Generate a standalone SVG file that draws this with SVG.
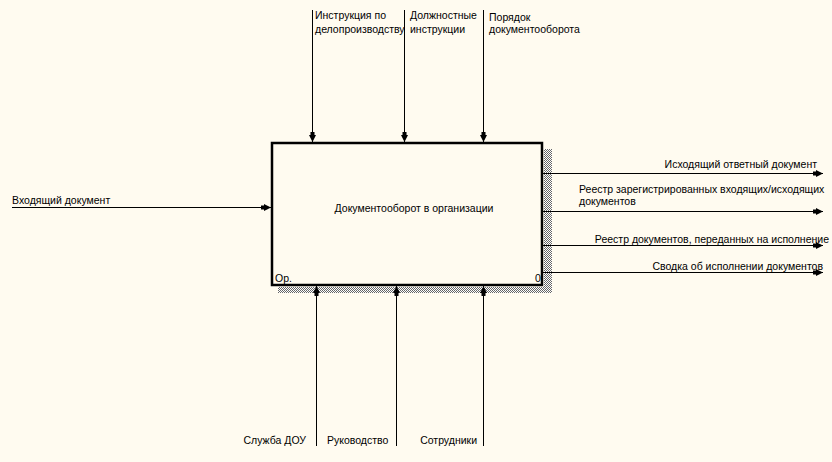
<svg xmlns="http://www.w3.org/2000/svg" width="832" height="462" viewBox="0 0 832 462">
<defs>
<pattern id="hatch" width="2" height="2" patternUnits="userSpaceOnUse">
<rect width="2" height="2" fill="#ffffff"/>
<rect width="1" height="1" fill="#666666"/>
<rect x="1" y="1" width="1" height="1" fill="#666666"/>
</pattern>
<marker id="arr" viewBox="0 0 10 8" refX="10" refY="4" markerWidth="10" markerHeight="8" markerUnits="userSpaceOnUse" orient="auto">
<path d="M0,2 L3,2 L3,0.5 L10,4 L3,7.5 L3,6 L0,6 Z" fill="#000"/>
</marker>
<style>
text{font-family:"Liberation Sans",Arial,sans-serif;font-size:10.5px;fill:#000}
.c{stroke:#000;stroke-width:1;fill:none}
</style>
</defs>
<rect width="832" height="462" fill="#fffbf0"/>
<g id="node-main">
<rect x="544" y="149" width="8" height="144" fill="url(#hatch)"/>
<rect x="278" y="287" width="274" height="6" fill="url(#hatch)"/>
<rect x="272" y="143" width="270" height="142" fill="#fffbf0" stroke="#000" stroke-width="2.5"/>
<text x="414" y="212" text-anchor="middle">Документооборот в организации</text>
<text x="275" y="282">Ор.</text>
<text x="535" y="282">0</text>
</g>
<g id="connectors">
<line class="c" x1="12" y1="207.5" x2="271" y2="207.5" marker-end="url(#arr)"/>
<line class="c" x1="312.5" y1="10" x2="312.5" y2="142" marker-end="url(#arr)"/>
<line class="c" x1="404.5" y1="10" x2="404.5" y2="142" marker-end="url(#arr)"/>
<line class="c" x1="483.5" y1="10" x2="483.5" y2="142" marker-end="url(#arr)"/>
<line class="c" x1="316.5" y1="446" x2="316.5" y2="286" marker-end="url(#arr)"/>
<line class="c" x1="396.5" y1="446" x2="396.5" y2="286" marker-end="url(#arr)"/>
<line class="c" x1="483.5" y1="446" x2="483.5" y2="286" marker-end="url(#arr)"/>
<line class="c" x1="543" y1="173.5" x2="823" y2="173.5" marker-end="url(#arr)"/>
<line class="c" x1="543" y1="211.5" x2="823" y2="211.5" marker-end="url(#arr)"/>
<line class="c" x1="543" y1="245.5" x2="823" y2="245.5" marker-end="url(#arr)"/>
<line class="c" x1="543" y1="272.5" x2="823" y2="272.5" marker-end="url(#arr)"/>
</g>
<g id="labels">
<text x="12" y="204">Входящий документ</text>
<text x="315" y="19">Инструкция по</text>
<text x="315" y="33">делопроизводству</text>
<text x="410" y="19">Должностные</text>
<text x="410" y="33">инструкции</text>
<text x="489" y="21">Порядок</text>
<text x="489" y="33">документооборота</text>
<text x="306" y="444" text-anchor="end">Служба ДОУ</text>
<text x="327" y="444">Руководство</text>
<text x="477" y="444" text-anchor="end">Сотрудники</text>
<text x="817" y="168" text-anchor="end">Исходящий ответный документ</text>
<text x="579" y="193">Реестр зарегистрированных входящих/исходящих</text>
<text x="579" y="205">документов</text>
<text x="829" y="243" text-anchor="end">Реестр документов, переданных на исполнение</text>
<text x="823" y="270" text-anchor="end">Сводка об исполнении документов</text>
</g>
</svg>
